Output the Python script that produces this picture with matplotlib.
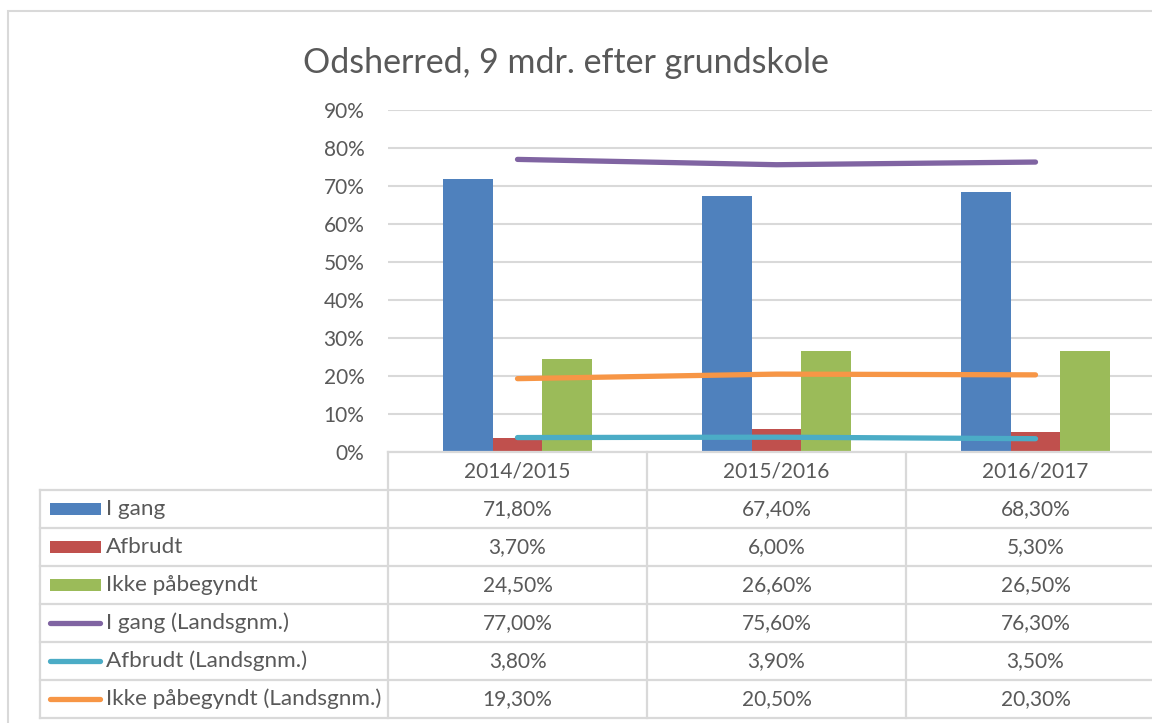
import matplotlib
matplotlib.use("Agg")
import matplotlib.pyplot as plt
from matplotlib.lines import Line2D
from matplotlib.patches import Rectangle
import numpy as np

categories = ["2014/2015", "2015/2016", "2016/2017"]
i_gang = [71.8, 67.4, 68.3]
afbrudt = [3.7, 6.0, 5.3]
ikke_paabegyndt = [24.5, 26.6, 26.5]
i_gang_lands = [77.0, 75.6, 76.3]
afbrudt_lands = [3.8, 3.9, 3.5]
ikke_paabegyndt_lands = [19.3, 20.5, 20.3]
series_names = ["I gang", "Afbrudt", "Ikke påbegyndt", "I gang (Landsgnm.)",
                "Afbrudt (Landsgnm.)", "Ikke påbegyndt (Landsgnm.)"]
yticks = [0, 10, 20, 30, 40, 50, 60, 70, 80, 90]

W, H = 1152, 723
FONT = ["Lato", "DejaVu Sans"]
TXT = "#595959"
GRID = "#d9d9d9"
colors_bar = ["#4F81BD", "#C0504D", "#9BBB59"]
colors_line = ["#8064A2", "#4BACC6", "#F79646"]
FS = 15

plt.rcParams["font.family"] = FONT
fig = plt.figure(figsize=(W / 100, H / 100), dpi=100)
fig.patch.set_facecolor("white")

def fx(x):
    return x / W

def fy(y):
    return 1 - y / H

# chart border
fig.add_artist(Rectangle((fx(8), fy(740)), fx(1170) - fx(8), fy(11) - fy(740),
                         transform=fig.transFigure, fill=False, edgecolor=GRID, lw=1.5))

# plot area
left_px, right_px, top_px, bot_px = 388, 1165, 110, 452
ax = fig.add_axes([fx(left_px), fy(bot_px), fx(right_px - left_px), (bot_px - top_px) / H])
ax.set_xlim(-0.5, 2.5)
ax.set_ylim(0, 90)
for s in ax.spines.values():
    s.set_visible(False)
ax.set_xticks([])
ax.set_yticks(yticks)
ax.set_yticklabels([f"{t}%" for t in yticks], color=TXT, fontsize=FS)
ax.tick_params(axis="y", length=0, pad=17)
ax.yaxis.grid(True, color=GRID, lw=1.5)
ax.set_axisbelow(True)

x = np.arange(len(categories))
bw = 0.193
bar_series = [i_gang, afbrudt, ikke_paabegyndt]
for k, (vals, c) in enumerate(zip(bar_series, colors_bar)):
    ax.bar(x + (k - 1) * bw, vals, width=bw, color=c, zorder=2)
line_series = [i_gang_lands, afbrudt_lands, ikke_paabegyndt_lands]
for vals, c in zip(line_series, colors_line):
    ax.plot(x, vals, color=c, lw=3.8, solid_capstyle="round", zorder=3)

fig.suptitle("Odsherred, 9 mdr. efter grundskole", x=fx(566), y=fy(63), va="center",
             fontsize=24.5, color=TXT)

# data table
row_h = 38
table_top = 452
table_left = 40
col_edges = [left_px + i * 259 for i in range(4)]
n_rows = len(series_names)

def hline(y, x0, x1):
    fig.add_artist(Line2D([fx(x0), fx(x1)], [fy(y), fy(y)], transform=fig.transFigure,
                          color=GRID, lw=1.6))

def vline(x0, y0, y1):
    fig.add_artist(Line2D([fx(x0), fx(x0)], [fy(y0), fy(y1)], transform=fig.transFigure,
                          color=GRID, lw=1.6))

hline(table_top, left_px, 1165)
for r in range(1, n_rows + 2):
    hline(table_top + r * row_h, table_left, 1165)
vline(table_left, table_top + row_h, table_top + (n_rows + 1) * row_h)
for xe in col_edges:
    vline(xe, table_top, table_top + (n_rows + 1) * row_h)

for j, cat in enumerate(categories):
    cx = (col_edges[j] + col_edges[j + 1]) / 2
    fig.text(fx(cx), fy(table_top + row_h / 2), cat, ha="center", va="center",
             fontsize=FS, color=TXT)

all_series = bar_series + line_series
all_colors = colors_bar + colors_line
for r, (name, vals, c) in enumerate(zip(series_names, all_series, all_colors)):
    cy = table_top + (r + 1) * row_h + row_h / 2
    if r < 3:
        fig.add_artist(Rectangle((fx(50), fy(cy + 6)), fx(101) - fx(50), fy(cy - 6) - fy(cy + 6),
                                 transform=fig.transFigure, facecolor=c, edgecolor="none"))
    else:
        fig.add_artist(Line2D([fx(50), fx(100)], [fy(cy), fy(cy)], transform=fig.transFigure,
                              color=c, lw=3.8, solid_capstyle="round"))
    fig.text(fx(106), fy(cy), name, ha="left", va="center", fontsize=16.2, color=TXT)
    for j, v in enumerate(vals):
        cx = (col_edges[j] + col_edges[j + 1]) / 2
        fig.text(fx(cx), fy(cy), f"{v:.2f}%".replace(".", ","), ha="center", va="center",
                 fontsize=FS, color=TXT)

fig.savefig("out.png", dpi=100)
